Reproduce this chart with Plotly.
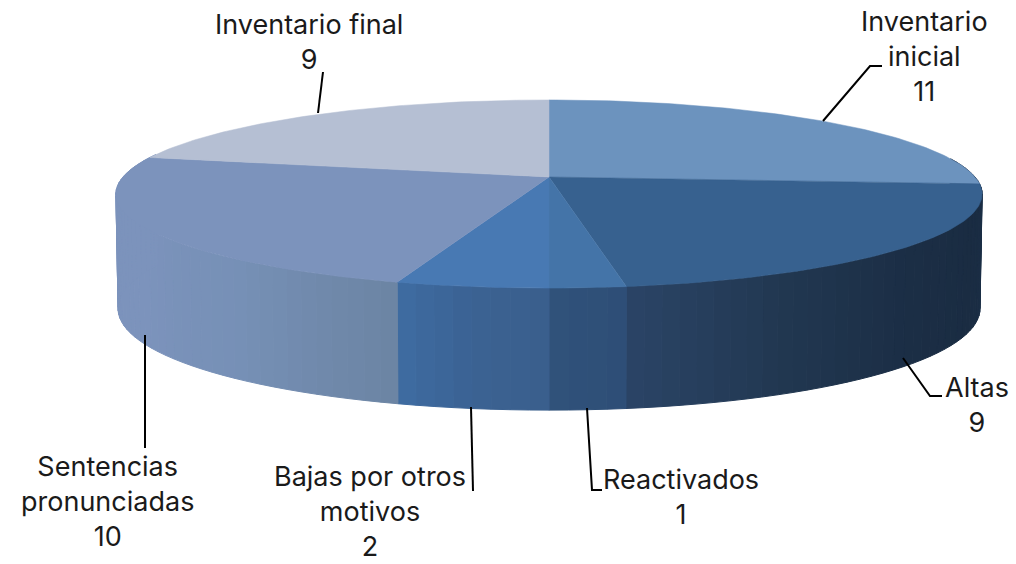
import math
import numpy as np
import plotly.graph_objects as go

categories = ["Inventario<br>inicial", "Altas", "Reactivados", "Bajas por otros<br>motivos",
              "Sentencias<br>pronunciadas", "Inventario final"]
values = [11, 9, 1, 2, 10, 9]
top_colors = ["#6C93BE", "#37618F", "#4474A8", "#4879B3", "#7C93BC", "#B5BFD3"]
side_stops = [
    ["#1D3149", "#1C3048"],
    ["#1C3048", "#1A2C42", "#1B2E45", "#213750", "#2A4466"],
    ["#2E4E76", "#30527B"],
    ["#3A5F8C", "#3B6293", "#3E6CA2"],
    ["#6C84A3", "#7690B6", "#7C93BC", "#7C93BC", "#7C93BC"],
    ["#7C93BC", "#7C93BC"],
]
label_xy = [(924, 56), (977, 405), (681, 497), (370, 511), (107, 501), (309, 42)]
leaders = [
    ([823, 870, 882], [121, 66, 66]),
    ([903, 930, 942], [358, 396, 396]),
    ([587, 592, 602], [408, 490, 490]),
    ([471, 473], [407, 491]),
    ([145, 145], [335, 448]),
    ([318, 323], [113, 72]),
]

CX, CY, A, B, K = 549, 177, 426, 91, 0.181


def proj(theta):
    x, z = np.sin(theta), np.cos(theta)
    w = 1 + K * z
    return CX + A * x / w, CY - B * z / w


def proj_bottom(theta):
    px, py = proj(theta)
    return CX + (px - CX) * 0.995, py + 113 - 9 * np.cos(theta)


def mix(stops, t):
    cols = [[int(c[i:i + 2], 16) for i in (1, 3, 5)] for c in stops]
    p = t * (len(cols) - 1)
    i = min(int(p), len(cols) - 2)
    f = p - i
    return "rgb(%d,%d,%d)" % tuple(round(cols[i][j] * (1 - f) + cols[i + 1][j] * f) for j in range(3))


total = sum(values)
edges = np.cumsum([0] + values) / total * 2 * math.pi
fig = go.Figure()

# sides, drawn first
for i in range(len(values)):
    a0, a1 = max(edges[i], math.radians(78)), min(edges[i + 1], math.radians(285))
    if a1 <= a0:
        continue
    n = max(2, int(math.degrees(a1 - a0) / 2))
    th = np.linspace(a0, a1, n + 1)
    for j in range(n):
        t0, t1 = th[j], th[j + 1]
        x0, y0 = proj(t0)
        x1, y1 = proj(t1)
        x2, y2 = proj_bottom(t1)
        x3, y3 = proj_bottom(t0)
        c = mix(side_stops[i], (j + 0.5) / n)
        fig.add_trace(go.Scatter(x=[x0, x1, x2, x3, x0], y=[y0, y1, y2, y3, y0], mode="lines",
                                 fill="toself", fillcolor=c, line=dict(color=c, width=1),
                                 hoverinfo="skip", showlegend=False))

# top faces
for i in range(len(values)):
    th = np.linspace(edges[i], edges[i + 1], 90)
    px, py = proj(th)
    fig.add_trace(go.Scatter(x=[CX, *px, CX], y=[CY, *py, CY], mode="lines", fill="toself",
                             fillcolor=top_colors[i], line=dict(color=top_colors[i], width=0.5),
                             hoverinfo="skip", showlegend=False))

for lx, ly in leaders:
    fig.add_trace(go.Scatter(x=lx, y=ly, mode="lines", line=dict(color="black", width=2),
                             hoverinfo="skip", showlegend=False))

for name, v, (x, y) in zip(categories, values, label_xy):
    fig.add_annotation(x=x, y=y, text=f"{name}<br>{v}", showarrow=False, xanchor="center", yanchor="middle",
                       font=dict(family="Inter", size=27, color="#1a1a1a"))

fig.update_layout(width=1016, height=564, margin=dict(l=0, r=0, t=0, b=0), autosize=False,
                  paper_bgcolor="white", plot_bgcolor="white",
                  xaxis=dict(range=[0, 1016], visible=False, fixedrange=True),
                  yaxis=dict(range=[564, 0], visible=False, fixedrange=True))
fig.write_html("out.html", config={"displayModeBar": False},
               post_script="document.body.style.margin='0';document.documentElement.style.overflow='hidden';")
